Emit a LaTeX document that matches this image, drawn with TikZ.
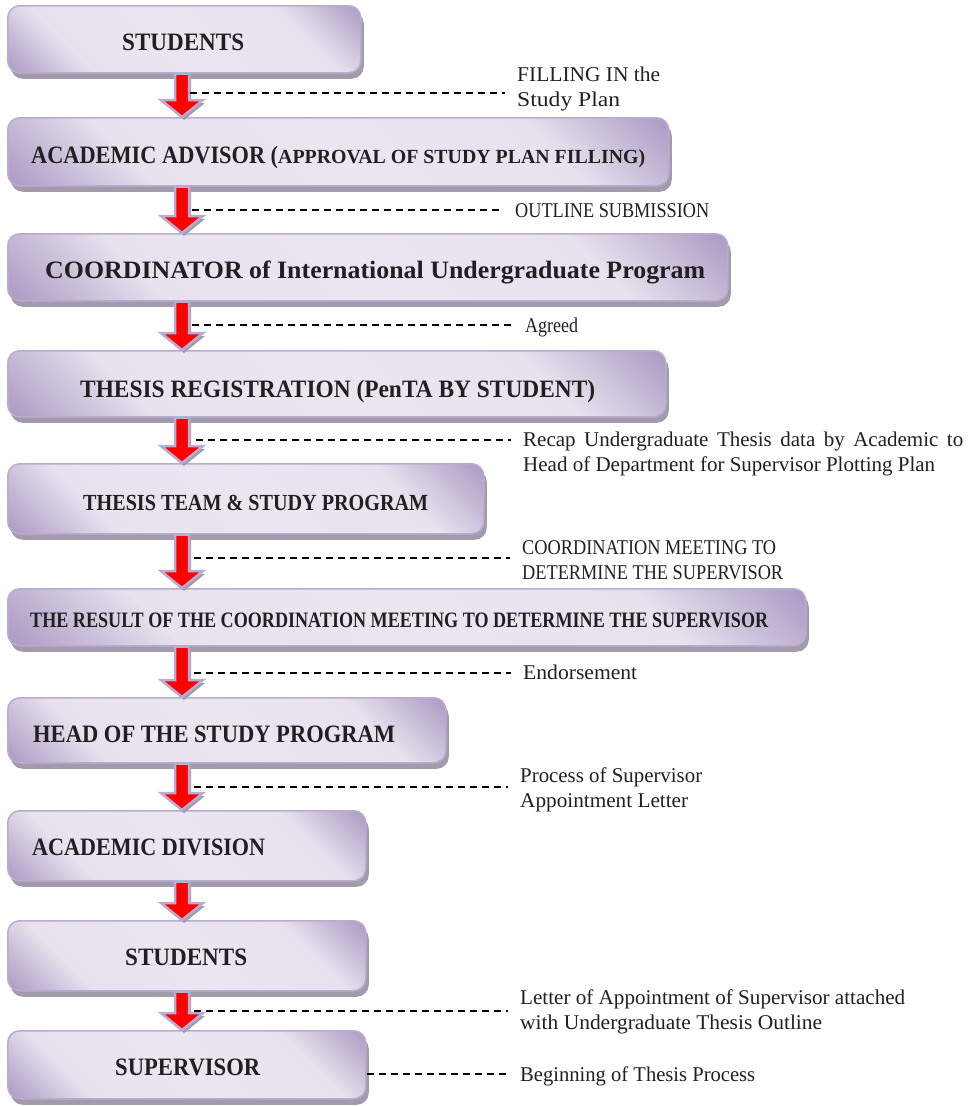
\documentclass[tikz,border=0pt]{standalone}
\usepackage{fontspec}
\setmainfont{Liberation Serif}
\usepackage{graphicx}
\usetikzlibrary{calc,shadows}
\definecolor{lavdark}{HTML}{AD9BC4}
\definecolor{lavlight}{HTML}{E7E2EE}
\definecolor{lavline}{HTML}{BAACD0}
\definecolor{shadowcol}{HTML}{A19BAC}
\definecolor{txt}{HTML}{231F20}
\pgfdeclareverticalshading{boxshade}{100bp}{color(0bp)=(lavdark); color(15bp)=(lavdark); color(29bp)=(lavlight); color(50bp)=(lavlight!85!white); color(71bp)=(lavlight); color(85bp)=(lavdark); color(100bp)=(lavdark)}
\newcommand\fitw[2]{\resizebox{#1pt}{\height}{#2}}
\newcommand\flowarrow[2]{%
  \path[arrowshape] let \p1=(#1.south -| ax), \p2=(#2.north -| ax) in
   (\x1-7pt,\y1) -- (\x1+7pt,\y1) -- (\x1+7pt,\y2+17pt) -- (\x1+21pt,\y2+17pt)
   -- (\x1,\y2) -- (\x1-21pt,\y2+17pt) -- (\x1-7pt,\y2+17pt) -- cycle;}
\begin{document}
\begin{tikzpicture}[x=1pt,y=-1pt,
  box/.style={rectangle, rounded corners=12pt, draw=lavline, line width=1.5pt,
    shading=boxshade, shading angle=-45,
    anchor=north west, inner sep=0pt,
    drop shadow={shadow xshift=3pt, shadow yshift=-6pt, fill=shadowcol, opacity=1}},
  btxt/.style={font={\fontsize{25}{30}\selectfont\bfseries}, text=txt, inner sep=0pt, anchor=base west},
  btxs/.style={btxt, font={\fontsize{22}{26}\selectfont\bfseries}},
  lbl/.style={font={\fontsize{21}{24.5}\selectfont}, text=txt, inner sep=0pt, anchor=base west, align=left},
  arrowshape/.style={fill=red, draw=lavline, line width=2.5pt, line join=miter,
    drop shadow={shadow xshift=2pt, shadow yshift=-3pt, fill=shadowcol, opacity=1}},
  dashline/.style={draw=black, line width=1.5pt, dash pattern=on 7pt off 5pt, shorten >=12pt}]
\useasboundingbox (0,0) rectangle (973,1106);
\fill[white] (0,0) rectangle (973,1106);
\coordinate (ax) at (182,0);
% boxes
\node[box, minimum width=353pt, minimum height=67pt] (b1) at (7,5) {};
\node[box, minimum width=661pt, minimum height=68pt] (b2) at (7,117) {};
\node[box, minimum width=720pt, minimum height=67pt] (b3) at (7,233) {};
\node[box, minimum width=658pt, minimum height=66pt] (b4) at (7,350) {};
\node[box, minimum width=476pt, minimum height=70pt] (b5) at (7,463) {};
\node[box, minimum width=798pt, minimum height=57pt] (b6) at (7,588) {};
\node[box, minimum width=438pt, minimum height=65pt] (b7) at (7,697) {};
\node[box, minimum width=358pt, minimum height=70pt] (b8) at (7,810) {};
\node[box, minimum width=358pt, minimum height=70pt] (b9) at (7,920) {};
\node[box, minimum width=358pt, minimum height=68pt] (b10) at (7,1030) {};
% box texts
\node[btxt] (t1) at (122,50) {\fitw{122}{STUDENTS}};
\node[btxt] (t2) at (31,163) {\fitw{247}{ACADEMIC ADVISOR (}\fitw{367}{\fontsize{20}{24}\selectfont APPROVAL OF STUDY PLAN FILLING)}};
\node[btxt] (t3) at (45,278) {\fitw{660}{COORDINATOR of International Undergraduate Program}};
\node[btxt] (t4) at (80,397) {\fitw{515}{THESIS REGISTRATION (PenTA BY STUDENT)}};
\node[btxs, font={\fontsize{23}{27}\selectfont\bfseries}] (t5) at (83,510) {\fitw{345}{THESIS TEAM \& STUDY PROGRAM}};
\node[btxs] (t6) at (30,627) {\fitw{738}{THE RESULT OF THE COORDINATION MEETING TO DETERMINE THE SUPERVISOR}};
\node[btxt] (t7) at (33,742) {\fitw{362}{HEAD OF THE STUDY PROGRAM}};
\node[btxt] (t8) at (32,855) {\fitw{233}{ACADEMIC DIVISION}};
\node[btxt] (t9) at (125,965) {\fitw{122}{STUDENTS}};
\node[btxt] (t10) at (115,1075) {\fitw{145}{SUPERVISOR}};
% arrows
\flowarrow{b1}{b2}
\flowarrow{b2}{b3}
\flowarrow{b3}{b4}
\flowarrow{b4}{b5}
\flowarrow{b5}{b6}
\flowarrow{b6}{b7}
\flowarrow{b7}{b8}
\flowarrow{b8}{b9}
\flowarrow{b9}{b10}
% labels (base anchor = last line)
\node[lbl] (l1) at (517,106) {\fitw{143}{FILLING IN the}\\\fitw{103}{Study Plan}};
\node[lbl] (l2) at (515,217) {\fitw{194}{OUTLINE SUBMISSION}};
\node[lbl] (l3) at (525,332) {\fitw{53}{Agreed}};
\node[lbl] (l4) at (523,471) {\makebox[440pt][s]{Recap Undergraduate Thesis data by Academic to}\\\fitw{412}{Head of Department for Supervisor Plotting Plan}};
\node[lbl] (l5) at (522,579) {\fitw{254}{COORDINATION MEETING TO}\\\fitw{261}{DETERMINE THE SUPERVISOR}};
\node[lbl] (l6) at (523,679) {\fitw{114}{Endorsement}};
\node[lbl] (l7) at (520,807) {\fitw{182}{Process of Supervisor}\\\fitw{168}{Appointment Letter}};
\node[lbl] (l9) at (520,1029) {\fitw{385}{Letter of Appointment of Supervisor attached}\\\fitw{302}{with Undergraduate Thesis Outline}};
\node[lbl] (l10) at (520,1081) {\fitw{235}{Beginning of Thesis Process}};
% dashed connectors
\coordinate (d1) at (190,93);
\coordinate (d2) at (192,210);
\coordinate (d3) at (192,325);
\coordinate (d4) at (196,440);
\coordinate (d5) at (194,558);
\coordinate (d6) at (194,673);
\coordinate (d7) at (194,787);
\coordinate (d9) at (194,1011);
\coordinate (d10) at (b10.east |- 0,1074);
\draw[dashline] (d1) -- (d1 -| l1.west);
\draw[dashline] (d2) -- (d2 -| l2.west);
\draw[dashline] (d3) -- (d3 -| l3.west);
\draw[dashline] (d4) -- (d4 -| l4.west);
\draw[dashline] (d5) -- (d5 -| l5.west);
\draw[dashline] (d6) -- (d6 -| l6.west);
\draw[dashline] (d7) -- (d7 -| l7.west);
\draw[dashline] (d9) -- (d9 -| l9.west);
\draw[dashline] (d10) -- (d10 -| l10.west);
\end{tikzpicture}
\end{document}
